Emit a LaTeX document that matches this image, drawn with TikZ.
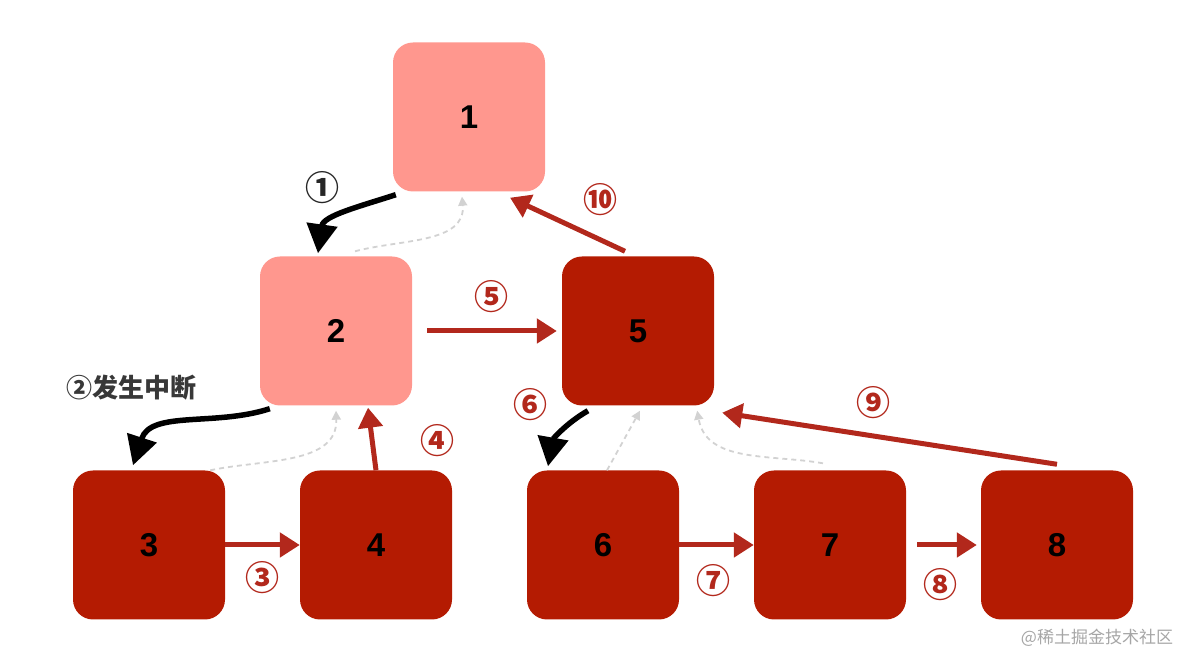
\documentclass[tikz,border=0pt]{standalone}
\usepackage{fontspec}
\setmainfont{Liberation Sans}
\newfontfamily\cjk{Noto Sans CJK SC}
\usetikzlibrary{arrows.meta, positioning}
\definecolor{lightred}{HTML}{FF978E}
\definecolor{darkred}{HTML}{B41B02}
\definecolor{markred}{HTML}{B2281C}
\definecolor{dashgray}{HTML}{D2D2D2}

\begin{document}
\begin{tikzpicture}[x=1pt, y=1pt, node distance=227pt,
  box/.style={rounded corners=20pt, minimum width=152pt, minimum height=149pt,
    font=\fontsize{33}{33}\selectfont\bfseries},
  blackarrow/.style={line width=5.5pt, -{Triangle[length=29pt, width=30pt]}},
  redarrow/.style={draw=markred, line width=5pt, -{Triangle[length=20pt, width=24pt]}},
  backarrow/.style={draw=dashgray, line width=1.8pt, dash pattern=on 5pt off 4pt,
    -{Triangle[length=9pt, width=9pt]}},
  steplabel/.style={text=markred, font=\cjk\fontsize{34}{34}\selectfont\bfseries},
  every node/.style={inner sep=0pt}]
  \useasboundingbox (0,0) rectangle (1187,669);

  % Boxes
  \node (n1) [box, fill=lightred] at (469,552) {1};
  \node (n2) [box, fill=lightred] at (336,338) {2};
  \node (n5) [box, fill=darkred, right of=n2, xshift=75pt] {5};
  \node (n3) [box, fill=darkred] at (149,124) {3};
  \node (n4) [box, fill=darkred, right of=n3] {4};
  \node (n6) [box, fill=darkred, right of=n4] {6};
  \node (n7) [box, fill=darkred, right of=n6] {7};
  \node (n8) [box, fill=darkred, right of=n7] {8};

  % Return paths
  \draw[backarrow] ([xshift=19pt,yshift=5pt]n2.north) to[out=15, in=-85] ([xshift=-7pt,yshift=-5pt]n1.south);
  \draw[backarrow] ([xshift=-15pt]n3.north east) to[out=12, in=-88] ([yshift=-5pt]n2.south);
  \draw[backarrow] ([xshift=4pt]n6.north) -- ([xshift=2pt,yshift=-5pt]n5.south);
  \draw[backarrow] ([xshift=-7pt,yshift=7pt]n7.north) to[out=170, in=-80] ([xshift=-17pt,yshift=-5pt]n5.south east);

  % Black steps
  \draw[blackarrow] ([xshift=3pt,yshift=-3pt]n1.south west) to[out=198, in=82] ([xshift=-18pt,yshift=3pt]n2.north);
  \draw[blackarrow] ([xshift=10pt,yshift=-3pt]n2.south west) to[out=198, in=72] ([xshift=-16pt,yshift=5pt]n3.north);
  \draw[blackarrow] ([xshift=-50pt,yshift=-5pt]n5.south) to[out=210, in=80] ([xshift=-55pt,yshift=4pt]n6.north);

  % Red steps
  \draw[redarrow] (n3) -- (n4);
  \draw[redarrow] (n4.north) -- ([xshift=32pt,yshift=-2pt]n2.south);
  \draw[redarrow] ([xshift=15pt]n2.east) -- ([xshift=-5pt]n5.west);
  \draw[redarrow] (n6) -- (n7);
  \draw[redarrow] ([xshift=11pt]n7.east) -- ([xshift=-4pt]n8.west);
  \draw[redarrow] ([yshift=6pt]n8.north) -- ([xshift=8pt,yshift=-7pt]n5.south east);
  \draw[redarrow] ([xshift=-13pt,yshift=5pt]n5.north) -- ([xshift=41pt,yshift=-6pt]n1.south);

  % Step labels
  \node (l1) [steplabel, text=black!85] at (322,481) {①};
  \node (l2) [text=black!78, font=\cjk\fontsize{26}{26}\selectfont\bfseries] at (131,281) {②发生中断};
  \node (l3) [steplabel] at (262,91) {③};
  \node (l4) [steplabel] at (437,228) {④};
  \node (l5) [steplabel] at (491,372) {⑤};
  \node (l6) [steplabel] at (530,264) {⑥};
  \node (l7) [steplabel] at (713,88) {⑦};
  \node (l8) [steplabel] at (940,84) {⑧};
  \node (l9) [steplabel] at (873,266) {⑨};
  \node (l10) [steplabel] at (600,469) {⑩};

  \node (wm) [text=black!35, font=\cjk\fontsize{17}{17}\selectfont] at (1097,31) {@稀土掘金技术社区};
\end{tikzpicture}
\end{document}
